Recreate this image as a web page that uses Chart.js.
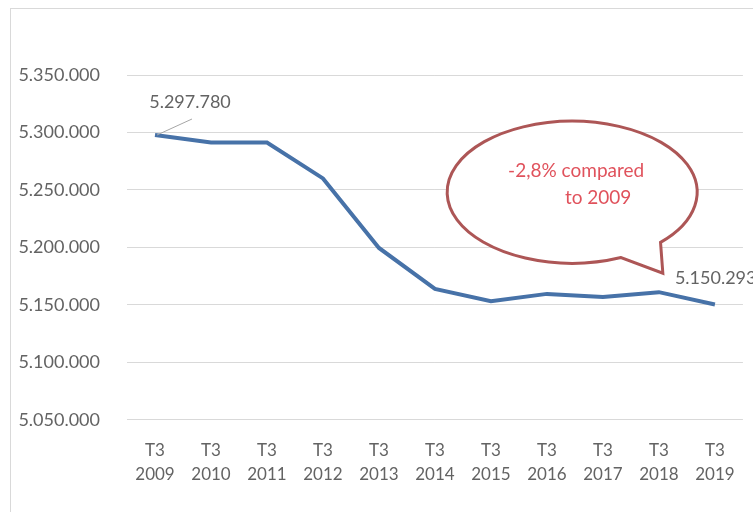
<!DOCTYPE html>
<html>
<head>
<meta charset="utf-8">
<script src="https://cdn.jsdelivr.net/npm/chart.js@4/dist/chart.umd.min.js"></script>
<style>
  body { margin: 0; background: #fff; }
  #wrap { position: relative; width: 753px; height: 512px; overflow: hidden; }
  #frame { position: absolute; left: 10px; top: 8px; width: 800px; height: 600px; border: 1px solid #d9d9d9; }
  #c { position: absolute; left: 0; top: 0; }
</style>
</head>
<body>
<div id="wrap">
  <div id="frame"></div>
  <canvas id="c" width="753" height="512"></canvas>
</div>
<script>
var quarters = ['T3', 'T3', 'T3', 'T3', 'T3', 'T3', 'T3', 'T3', 'T3', 'T3', 'T3'];
var years = ['2009', '2010', '2011', '2012', '2013', '2014', '2015', '2016', '2017', '2018', '2019'];
var population = [5297780, 5291300, 5291200, 5260000, 5199500, 5163800, 5153200, 5159500, 5156700, 5161000, 5150293];
var yTicks = [5050000, 5100000, 5150000, 5200000, 5250000, 5300000, 5350000];
var bubbleText = ['-2,8% compared', 'to 2009'];

var labels = [];
for (var i = 0; i < years.length; i++) {
  labels.push([quarters[i], years[i]]);
}

// 5297780 -> "5.297.780"
function fmt(n) {
  return String(Math.round(n)).replace(/\B(?=(\d{3})+(?!\d))/g, '.');
}

var FONT = 'Lato, "Open Sans", sans-serif';
var GREY = '#636363';

// value labels on first and last point, plus the speech bubble
var extras = {
  id: 'extras',
  afterDatasetsDraw: function(chart) {
    var ctx = chart.ctx;
    var x = chart.scales.x, y = chart.scales.y;
    var pts = chart.getDatasetMeta(0).data;
    var first = pts[0], last = pts[pts.length - 1];

    ctx.save();
    ctx.font = '18px ' + FONT;
    ctx.fillStyle = GREY;
    ctx.textBaseline = 'middle';

    // leader line to first label
    ctx.strokeStyle = '#a6a6a6';
    ctx.lineWidth = 1;
    ctx.beginPath();
    ctx.moveTo(first.x + 2, first.y);
    ctx.lineTo(first.x + 37, first.y - 16);
    ctx.stroke();

    ctx.textAlign = 'center';
    ctx.fillText(fmt(population[0]), first.x + 35, first.y - 33);
    ctx.textAlign = 'left';
    ctx.fillText(fmt(population[population.length - 1]), last.x - 40, last.y - 26);

    // speech bubble
    var cx = x.getPixelForValue(7.45), cy = y.getPixelForValue(5248000);
    var tx = x.getPixelForValue(9.07), ty = y.getPixelForValue(5177500);
    var rx = 125, ry = 71;
    var a1 = 67 * Math.PI / 180, a2 = 45 * Math.PI / 180;
    ctx.beginPath();
    ctx.ellipse(cx, cy, rx, ry, 0, a1, a2 + Math.PI * 2);
    ctx.lineTo(tx, ty);
    ctx.closePath();
    ctx.fillStyle = '#fff';
    ctx.fill();
    ctx.strokeStyle = '#ad5656';
    ctx.lineWidth = 3;
    ctx.stroke();

    ctx.font = '19px ' + FONT;
    ctx.fillStyle = '#e0525c';
    ctx.textAlign = 'center';
    ctx.fillText(bubbleText[0], cx + 4, cy - 21);
    ctx.fillText(bubbleText[1], cx + 26, cy + 6);
    ctx.restore();
  }
};

new Chart(document.getElementById('c'), {
  type: 'line',
  data: {
    labels: labels,
    datasets: [{
      data: population,
      borderColor: '#4772a8',
      borderWidth: 4,
      pointRadius: 0,
      tension: 0,
      fill: false
    }]
  },
  options: {
    responsive: false,
    animation: false,
    layout: { padding: { top: 75, right: 8, bottom: 7, left: 0 } },
    plugins: {
      legend: { display: false },
      tooltip: { enabled: false }
    },
    scales: {
      x: {
        offset: true,
        grid: { display: false, drawTicks: false },
        border: { display: false },
        ticks: {
          color: GREY,
          font: { family: FONT, size: 17, lineHeight: 1.45 },
          padding: 18,
          maxRotation: 0,
          autoSkip: false
        }
      },
      y: {
        min: yTicks[0],
        max: yTicks[yTicks.length - 1],
        afterBuildTicks: function(scale) {
          scale.ticks = yTicks.map(function(v) { return { value: v }; });
        },
        afterFit: function(scale) { scale.width = 127; },
        grid: { color: '#d9d9d9', lineWidth: 1, drawTicks: false },
        border: { display: false },
        ticks: {
          color: GREY,
          font: { family: FONT, size: 18 },
          padding: 27,
          callback: function(v) { return fmt(v); }
        }
      }
    }
  },
  plugins: [extras]
});
</script>
</body>
</html>
